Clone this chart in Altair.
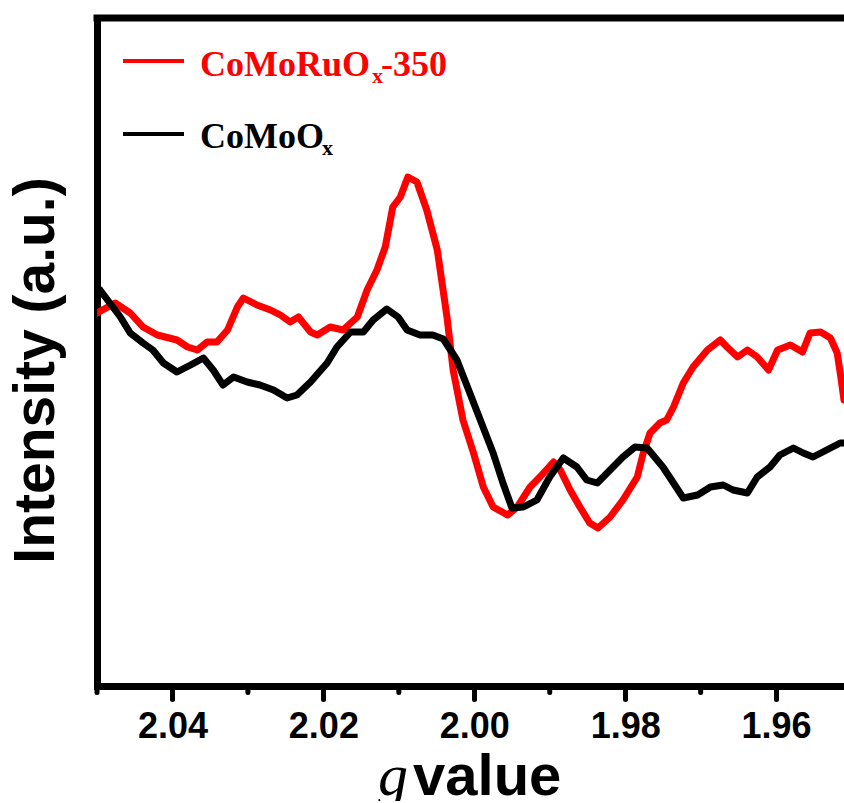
import altair as alt
import pandas as pd

# ---- data (g value vs. intensity, arbitrary units) ----
red_g = [2.0500, 2.0476, 2.0456, 2.0439, 2.0420, 2.0394, 2.0380, 2.0367, 2.0354, 2.0341,
         2.0327, 2.0314, 2.0306, 2.0288, 2.0270, 2.0257, 2.0244, 2.0233, 2.0217, 2.0208,
         2.0191, 2.0174, 2.0155, 2.0142, 2.0129, 2.0118, 2.0108, 2.0098, 2.0088, 2.0076,
         2.0063, 2.0049, 2.0036, 2.0028, 2.0015, 2.0001, 1.9988, 1.9975, 1.9956, 1.9943,
         1.9926, 1.9913, 1.9895, 1.9886, 1.9873, 1.9860, 1.9847, 1.9836, 1.9820, 1.9803,
         1.9784, 1.9776, 1.9767, 1.9754, 1.9745, 1.9736, 1.9723, 1.9710, 1.9691, 1.9674,
         1.9665, 1.9651, 1.9638, 1.9625, 1.9610, 1.9598, 1.9581, 1.9565, 1.9555, 1.9541,
         1.9528, 1.9519, 1.9515, 1.9510]
red_i = [373, 383, 373, 359, 351, 346, 339, 336, 344, 344,
         356, 379, 388, 381, 376, 371, 364, 369, 354, 351,
         359, 356, 369, 396, 416, 439, 479, 489, 509, 504,
         476, 436, 368, 316, 266, 233, 199, 179, 171, 179,
         199, 209, 224, 216, 196, 179, 163, 158, 169, 186,
         209, 233, 253, 263, 266, 279, 303, 319, 336, 346,
         339, 329, 336, 329, 316, 336, 341, 334, 353, 354,
         348, 333, 313, 286]

black_g = [2.0500, 2.0496, 2.0483, 2.0469, 2.0456, 2.0439, 2.0426, 2.0412, 2.0394, 2.0376,
           2.0359, 2.0346, 2.0333, 2.0319, 2.0301, 2.0284, 2.0266, 2.0248, 2.0235, 2.0217,
           2.0195, 2.0182, 2.0164, 2.0147, 2.0134, 2.0116, 2.0101, 2.0089, 2.0072, 2.0055,
           2.0041, 2.0023, 2.0009, 1.9992, 1.9975, 1.9962, 1.9950, 1.9935, 1.9917, 1.9900,
           1.9882, 1.9864, 1.9851, 1.9837, 1.9820, 1.9803, 1.9787, 1.9771, 1.9750, 1.9736,
           1.9723, 1.9704, 1.9687, 1.9670, 1.9657, 1.9638, 1.9625, 1.9608, 1.9595, 1.9577,
           1.9564, 1.9551, 1.9533, 1.9515, 1.9510]
black_i = [398, 396, 383, 369, 353, 343, 336, 323, 314, 321,
           328, 316, 301, 309, 304, 301, 296, 288, 291, 304,
           323, 339, 354, 354, 366, 377, 369, 356, 351, 351,
           347, 326, 299, 266, 233, 203, 178, 179, 186, 209,
           228, 219, 206, 203, 216, 229, 239, 238, 219, 203,
           188, 191, 199, 201, 196, 193, 209, 219, 231, 238,
           233, 229, 236, 243, 243]

major_ticks = [2.04, 2.02, 2.00, 1.98, 1.96]
minor_ticks = [2.05, 2.03, 2.01, 1.99, 1.97]
legend_red = ["CoMoRu", "O", "x", "-350"]
legend_black = ["CoMo", "O", "x"]
x_title = ["g", "value"]
y_title = "Intensity (a.u.)"

RED = "#ff0000"
W, H = 747, 668

xscale = alt.Scale(domain=[1.951, 2.05], reverse=True, nice=False, zero=False)
yscale = alt.Scale(domain=[0, 668], nice=False, zero=False)

xaxis = alt.Axis(values=major_ticks, format=".2f", title=None, grid=False,
                 domainWidth=7, domainColor="black", domainCap="square",
                 tickWidth=5, tickSize=13, tickCap="round", tickColor="black",
                 labelFont="Liberation Sans", labelFontWeight="bold", labelFontSize=36,
                 labelColor="black", labelPadding=10, labelFlush=False)
yaxis = alt.Axis(title=y_title, labels=False, ticks=False, grid=False,
                 domainWidth=7, domainColor="black", domainCap="square",
                 titleFont="Liberation Sans", titleFontWeight="bold", titleFontSize=57,
                 titleColor="black", titleX=-44, titleY=352, titleAngle=270,
                 titleBaseline="alphabetic", titleAlign="center")

red_df = pd.DataFrame({"g": red_g, "I": red_i})
black_df = pd.DataFrame({"g": black_g, "I": black_i})
one = pd.DataFrame({"a": [0]})

red_line = alt.Chart(red_df).mark_line(color=RED, strokeWidth=7, clip=True,
                                       strokeJoin="round", strokeCap="round").encode(
    x=alt.X("g:Q", scale=xscale, axis=xaxis),
    y=alt.Y("I:Q", scale=yscale, axis=yaxis),
)
black_line = alt.Chart(black_df).mark_line(color="black", strokeWidth=7, clip=True,
                                           strokeJoin="round", strokeCap="round").encode(
    x=alt.X("g:Q", scale=xscale, axis=xaxis),
    y=alt.Y("I:Q", scale=yscale, axis=yaxis),
)

minor = alt.Chart(pd.DataFrame({"g": minor_ticks})).mark_rule(
    strokeWidth=5, strokeCap="round", color="black").encode(
    x=alt.X("g:Q", scale=xscale), y=alt.value(H), y2=alt.value(H + 6.5))

top_border = alt.Chart(one).mark_rule(strokeWidth=7, color="black").encode(
    x=alt.value(-3.5), x2=alt.value(W + 20), y=alt.value(0))

def txt(s, x, y, size, color="black", font="Liberation Serif", weight="bold", style="normal"):
    return alt.Chart(one).mark_text(text=s, font=font, fontSize=size, fontWeight=weight,
                                    fontStyle=style, color=color, align="left",
                                    baseline="alphabetic").encode(
        x=alt.value(x), y=alt.value(y))

leg_red_line = alt.Chart(one).mark_rule(strokeWidth=4, color=RED).encode(
    x=alt.value(26), x2=alt.value(87), y=alt.value(43))
leg_black_line = alt.Chart(one).mark_rule(strokeWidth=4, color="black").encode(
    x=alt.value(26), x2=alt.value(87), y=alt.value(116))

leg_red = [
    txt(legend_red[0] + legend_red[1], 103, 58, 36, RED),
    txt(legend_red[2], 275, 65, 22, RED),
    txt(legend_red[3], 284, 58, 36, RED),
]
leg_black = [
    txt(legend_black[0] + legend_black[1], 103, 130, 36),
    txt(legend_black[2], 225, 137, 22),
]

xt = [
    txt(x_title[0], 281, 777, 60, font="Liberation Serif", weight="normal", style="italic"),
    txt(x_title[1], 316, 777, 58, font="Liberation Sans", weight="bold"),
]

chart = alt.layer(
    red_line, black_line, minor, top_border,
    leg_red_line, leg_black_line, *leg_red, *leg_black, *xt
).properties(
    width=W, height=H,
    padding={"left": 97, "top": 18, "right": 0, "bottom": 115},
    autosize=alt.AutoSizeParams(type="none"),
).configure_view(stroke=None).configure(background="white")

chart.save("out.html", embed_options={"renderer": "svg", "actions": False})
